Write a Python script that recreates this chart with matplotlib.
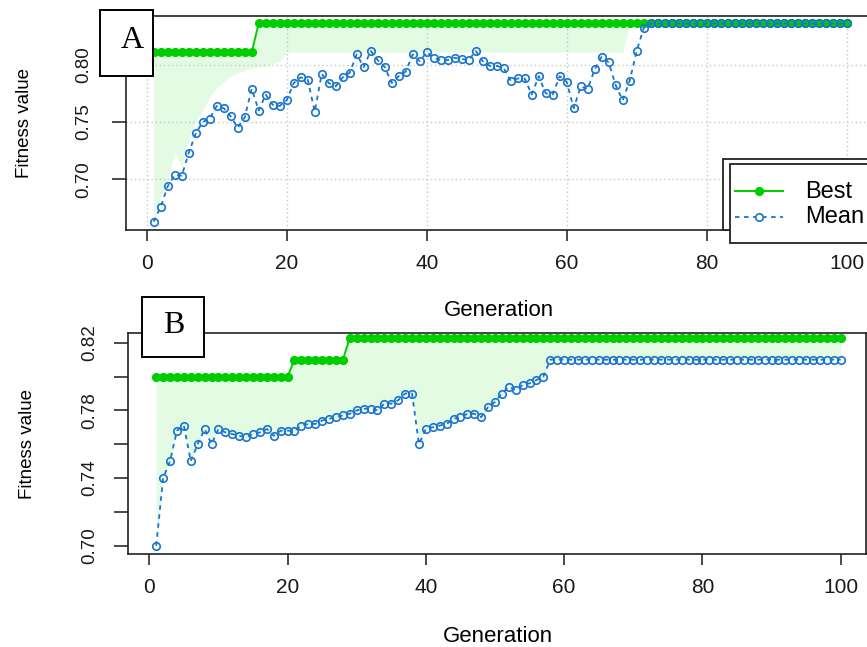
import matplotlib
matplotlib.use('Agg')
import matplotlib.pyplot as plt
from matplotlib.patches import Rectangle
from matplotlib.lines import Line2D
import numpy as np

# generations 1..100
gens = np.arange(1, 101)

# panel A
best_a = [0.811] * 15 + [0.836] * 85
mean_a = [0.663, 0.676, 0.694, 0.704, 0.703, 0.723, 0.740, 0.750, 0.753, 0.764,
          0.762, 0.755, 0.745, 0.754, 0.779, 0.760, 0.774, 0.765, 0.764, 0.769,
          0.784, 0.789, 0.787, 0.759, 0.792, 0.784, 0.781, 0.789, 0.793, 0.809,
          0.798, 0.812, 0.804, 0.798, 0.784, 0.790, 0.794, 0.809, 0.803, 0.811,
          0.806, 0.804, 0.804, 0.806, 0.805, 0.804, 0.812, 0.803, 0.799, 0.799,
          0.797, 0.786, 0.788, 0.788, 0.774, 0.790, 0.775, 0.774, 0.790, 0.785,
          0.762, 0.781, 0.779, 0.796, 0.807, 0.802, 0.782, 0.769, 0.786, 0.812,
          0.832] + [0.836] * 29
median_a = [0.664, 0.685, 0.700, 0.724, 0.711, 0.735, 0.750, 0.760, 0.772, 0.780,
            0.785, 0.790, 0.793, 0.795, 0.797, 0.798, 0.799, 0.801, 0.803] \
    + [0.811] * 49 + [0.836] * 32

# panel B
best_b = [0.800] * 20 + [0.810] * 8 + [0.823] * 72
mean_b = [0.700, 0.740, 0.750, 0.768, 0.771, 0.750, 0.760, 0.769, 0.760, 0.769,
          0.767, 0.766, 0.765, 0.764, 0.766, 0.767, 0.769, 0.765, 0.768, 0.768,
          0.768, 0.771, 0.772, 0.772, 0.774, 0.775, 0.776, 0.777, 0.778, 0.780,
          0.781, 0.781, 0.780, 0.784, 0.784, 0.786, 0.790, 0.790, 0.760, 0.769,
          0.770, 0.771, 0.772, 0.775, 0.776, 0.778, 0.778, 0.776, 0.782, 0.785,
          0.790, 0.794, 0.792, 0.795, 0.796, 0.798, 0.800] + [0.810] * 43

x_ticks = [0, 20, 40, 60, 80, 100]
y_ticks_a = [0.70, 0.75, 0.80]
y_labels_a = ['0.70', '0.75', '0.80']
y_ticks_b = [0.70, 0.72, 0.74, 0.76, 0.78, 0.80, 0.82]
y_labels_b = ['0.70', '', '0.74', '', '0.78', '', '0.82']

GREEN = '#00CD00'
BLUE = '#1874CD'
FILL = '#E3FAE3'

W, H = 867, 647
plt.rcParams['font.family'] = ['Liberation Sans', 'DejaVu Sans']


def box(l, t, r, b):
    return [l / W, 1 - b / H, (r - l) / W, (b - t) / H]


def fx(x):
    return x / W


def fy(y):
    return 1 - y / H


fig = plt.figure(figsize=(W / 100, H / 100), dpi=100)


def draw_panel(ax, best, mean, lower, yt, ylab, ypad, grid):
    ax.fill_between(gens, lower, best, color=FILL, lw=0, zorder=0.5)
    if grid:
        ax.grid(True, color='#c8c8c8', linestyle=(0, (1, 2)), lw=1.0)
    ax.plot(gens, best, color=GREEN, lw=1.4, marker='o', ms=5.6,
            mec=GREEN, mfc=GREEN, zorder=3)
    ax.plot(gens, mean, color=BLUE, lw=1.3, dashes=(2.5, 2.5), marker='o',
            ms=5.4, mfc='none', mec=BLUE, mew=1.2, zorder=4)
    ax.set_xticks(x_ticks)
    ax.set_xticklabels([str(v) for v in x_ticks], fontsize=15)
    ax.set_yticks(yt)
    ax.set_yticklabels(ylab, rotation=90, va='center', fontsize=13.5)
    ax.tick_params(axis='x', direction='out', length=8, width=1.1, pad=9,
                   colors='#1a1a1a')
    ax.tick_params(axis='y', direction='out', length=10, width=1.1, pad=ypad,
                   colors='#1a1a1a')
    for s in ax.spines.values():
        s.set_linewidth(1.2)
        s.set_color('#222222')


# panel A
ax_a = fig.add_axes(box(126, 16, 874.4, 230))
ax_a.set_xlim(-2.96, 103.96)
ax_a.set_ylim(0.6558, 0.8425)
draw_panel(ax_a, best_a, mean_a, median_a, y_ticks_a, y_labels_a, 14, True)

# panel B
ax_b = fig.add_axes(box(128, 333.3, 866, 554))
ax_b.set_xlim(-3.08, 103.66)
ax_b.set_ylim(0.6951, 0.8256)
draw_panel(ax_b, best_b, mean_b, mean_b, y_ticks_b, y_labels_b, 11.5, False)

# axis titles
fig.text(fx(499), fy(311), 'Generation', ha='center', va='center', fontsize=16)
fig.text(fx(498), fy(636), 'Generation', ha='center', va='center', fontsize=16)
fig.text(fx(25), fy(123), 'Fitness value', ha='center', va='center',
         rotation=90, fontsize=13.5)
fig.text(fx(28), fy(444), 'Fitness value', ha='center', va='center',
         rotation=90, fontsize=13.5)

# panel letters
for (l, t, r, b), (cx, cy), lab in [((100, 10, 152.7, 76), (132, 41), 'A'),
                                     ((142.3, 296.7, 204, 357.3), (173.3, 325.5), 'B')]:
    fig.patches.append(Rectangle((fx(l), fy(b)), (r - l) / W, (b - t) / H,
                                 transform=fig.transFigure, facecolor='white',
                                 edgecolor='black', lw=1.4, zorder=5))
    fig.text(fx(cx), fy(cy), lab, ha='center', va='center', fontsize=23,
             family=['Liberation Serif', 'DejaVu Serif'], zorder=6)

# legend of panel A (double frame as in the picture)
fig.patches.append(Rectangle((fx(723.3), fy(230)), (880 - 723.3) / W, (230 - 159.3) / H,
                             transform=fig.transFigure, facecolor='white',
                             edgecolor='#222222', lw=1.3, zorder=5))
fig.patches.append(Rectangle((fx(730), fy(243)), (880 - 730) / W, (243 - 164) / H,
                             transform=fig.transFigure, facecolor='white',
                             edgecolor='#222222', lw=1.3, zorder=5))
fig.lines.append(Line2D([fx(735), fx(782.7)], [fy(190.5), fy(190.5)],
                        transform=fig.transFigure, color=GREEN, lw=1.4, zorder=6))
fig.lines.append(Line2D([fx(758.7)], [fy(190.5)], transform=fig.transFigure,
                        color=GREEN, marker='o', ms=5.6, zorder=6))
fig.lines.append(Line2D([fx(735), fx(782.7)], [fy(216.5), fy(216.5)],
                        transform=fig.transFigure, color=BLUE, lw=1.3,
                        dashes=(2.5, 2.5), zorder=6))
fig.lines.append(Line2D([fx(758.7)], [fy(216.5)], transform=fig.transFigure,
                        color=BLUE, marker='o', ms=5.4, mfc='white', mew=1.2,
                        zorder=6))
fig.text(fx(805), fy(191.5), 'Best', ha='left', va='center', fontsize=17, zorder=7)
fig.text(fx(805), fy(216.5), 'Mean', ha='left', va='center', fontsize=17, zorder=7)

fig.savefig('out.png', dpi=100)
